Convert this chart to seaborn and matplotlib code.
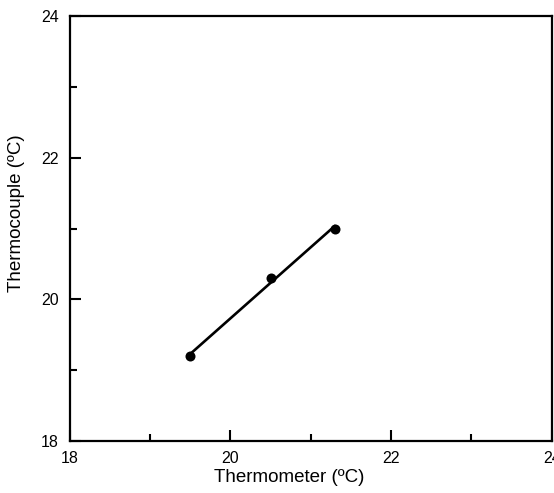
import numpy as np
import pandas as pd
import seaborn as sns
import matplotlib.pyplot as plt
from matplotlib.ticker import MultipleLocator

# 读数 (从图上估计)
thermometer = [19.5, 20.5, 21.3]
thermocouple = [19.2, 20.3, 21.0]

df = pd.DataFrame({'thermometer': thermometer, 'thermocouple': thermocouple})

sns.set_theme(style='white')
plt.rcParams['font.family'] = ['Liberation Sans', 'DejaVu Sans']
plt.rcParams['text.color'] = 'black'
plt.rcParams['axes.labelcolor'] = 'black'

fig = plt.figure(figsize=(5.54, 4.93), dpi=100)
ax = fig.add_axes([0.126, 0.1055, 0.87, 0.862])

sns.regplot(data=df, x='thermometer', y='thermocouple', ax=ax, ci=None,
            color='black', scatter_kws={'s': 52, 'alpha': 1, 'linewidths': 0},
            line_kws={'lw': 1.9})

ax.set_xlim(18, 24)
ax.set_ylim(18, 24)
ax.xaxis.set_major_locator(MultipleLocator(2))
ax.yaxis.set_major_locator(MultipleLocator(2))
ax.xaxis.set_minor_locator(MultipleLocator(1))
ax.yaxis.set_minor_locator(MultipleLocator(1))

ax.tick_params(which='major', direction='in', length=8, width=1.5, labelsize=11.5,
               colors='black', bottom=True, left=True, top=False, right=False)
ax.tick_params(which='minor', direction='in', length=5, width=1.5, colors='black',
               bottom=True, left=True, top=False, right=False)
ax.tick_params(axis='x', which='major', pad=7)
ax.tick_params(axis='y', which='major', pad=8)

for s in ax.spines.values():
    s.set_visible(True)
    s.set_color('black')
    s.set_linewidth(1.6)

ax.set_xlabel('Thermometer (ºC)', fontsize=13.5, color='black')
ax.set_ylabel('Thermocouple (ºC)', fontsize=13.5, color='black')
ax.xaxis.set_label_coords(0.456, -0.066)
ax.yaxis.set_label_coords(-0.092, 0.537)

fig.savefig('out.png', dpi=100)
